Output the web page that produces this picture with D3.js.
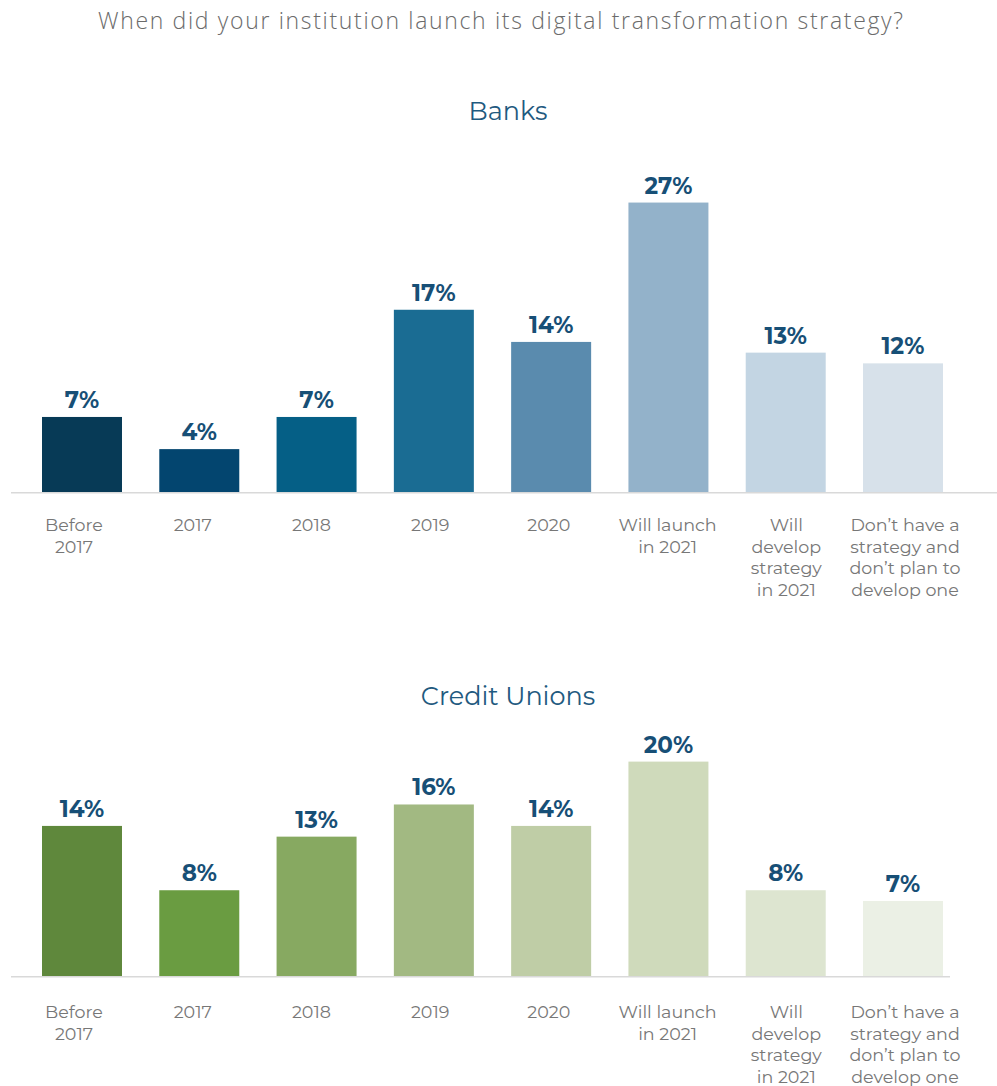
<!DOCTYPE html>
<html>
<head>
<meta charset="utf-8">
<script src="https://cdn.jsdelivr.net/npm/d3@7"></script>
<style>
  html, body { margin: 0; padding: 0; background: #ffffff; }
  svg { display: block; }
</style>
</head>
<body>
<svg id="chart" width="997" height="1086"></svg>
<script>
// Survey answers: when the digital transformation strategy was launched
const categories = [
  "Before 2017", "2017", "2018", "2019", "2020",
  "Will launch in 2021", "Will develop strategy in 2021",
  "Don't have a strategy and don't plan to develop one"
];
// Category labels broken into display lines
const categoryLines = [
  ["Before", "2017"], ["2017"], ["2018"], ["2019"], ["2020"],
  ["Will launch", "in 2021"], ["Will", "develop", "strategy", "in 2021"],
  ["Don\u2019t have a", "strategy and", "don\u2019t plan to", "develop one"]
];
const banksValues = [7, 4, 7, 17, 14, 27, 13, 12];
const creditUnionValues = [14, 8, 13, 16, 14, 20, 8, 7];

const banksColors = ["#073a56", "#03456f", "#055f86", "#1a6c93", "#5a8bae", "#93b2ca", "#c3d5e3", "#d7e1ea"];
const creditUnionColors = ["#5f883c", "#6a9c41", "#87a961", "#a2b982", "#bfcda6", "#cfdabb", "#dde5d0", "#ebf0e5"];

const titleText = "When did your institution launch its digital transformation strategy?";

const svg = d3.select("#chart");
const FONT = "Montserrat, Lato, 'Open Sans', sans-serif";

const x = d3.scaleBand()
  .domain(categories)
  .range([23.35, 961.65])
  .paddingInner(0.318)
  .paddingOuter(0.159);

// category labels sit on their own slightly wider grid
const xLabel = d3.scalePoint()
  .domain(categories)
  .range([74, 905]);

// shared px-per-percent scale for bar heights
const h = d3.scaleLinear().domain([0, 1]).range([0, 1072]);

// question heading, spread across its full line width
svg.append("text")
  .attr("x", 500.5)
  .attr("y", 29)
  .attr("text-anchor", "middle")
  .attr("font-family", "'Open Sans', Roboto, sans-serif")
  .attr("font-weight", 300)
  .attr("font-size", 23)
  .attr("fill", "#6b6b6b")
  .attr("textLength", 805)
  .attr("lengthAdjust", "spacing")
  .text(titleText);

function drawPanel(cfg) {
  const g = svg.append("g");
  const base = cfg.baseline;

  g.append("text")
    .attr("x", 508)
    .attr("y", cfg.titleY)
    .attr("text-anchor", "middle")
    .attr("font-family", FONT)
    .attr("font-size", 25.5)
    .attr("fill", "#1f5a80")
    .text(cfg.title);

  g.append("line")
    .attr("x1", 11).attr("x2", cfg.axisEnd)
    .attr("y1", base + 0.8).attr("y2", base + 0.8)
    .attr("stroke", "#d9d9d9")
    .attr("stroke-width", 1.6);

  const data = categories.map((c, i) => ({ c, v: cfg.values[i], color: cfg.colors[i], lines: categoryLines[i] }));

  g.selectAll("rect.bar")
    .data(data)
    .join("rect")
    .attr("class", "bar")
    .attr("x", d => x(d.c))
    .attr("width", x.bandwidth())
    .attr("y", d => base - h(d.v / 100))
    .attr("height", d => h(d.v / 100))
    .attr("fill", d => d.color);

  g.selectAll("text.value")
    .data(data)
    .join("text")
    .attr("class", "value")
    .attr("x", d => x(d.c) + x.bandwidth() / 2)
    .attr("y", d => base - h(d.v / 100) - 9)
    .attr("text-anchor", "middle")
    .attr("font-family", FONT)
    .attr("font-weight", 700)
    .attr("font-size", 23)
    .attr("fill", "#174f76")
    .text(d => d.v + "%");

  const labels = g.selectAll("text.cat")
    .data(data)
    .join("text")
    .attr("class", "cat")
    .attr("x", d => xLabel(d.c))
    .attr("y", base + cfg.labelOffset)
    .attr("text-anchor", "middle")
    .attr("font-family", FONT)
    .attr("font-size", 17.5)
    .attr("fill", "#777777");

  labels.selectAll("tspan")
    .data(d => d.lines.map(line => ({ line, x: xLabel(d.c) })))
    .join("tspan")
    .attr("x", t => t.x)
    .attr("dy", (t, i) => i === 0 ? 0 : 21.7)
    .text(t => t.line);
}

drawPanel({
  title: "Banks",
  titleY: 120,
  baseline: 492,
  axisEnd: 997,
  labelOffset: 39,
  values: banksValues,
  colors: banksColors
});

drawPanel({
  title: "Credit Unions",
  titleY: 705,
  baseline: 976,
  axisEnd: 950,
  labelOffset: 42,
  values: creditUnionValues,
  colors: creditUnionColors
});
</script>
</body>
</html>
